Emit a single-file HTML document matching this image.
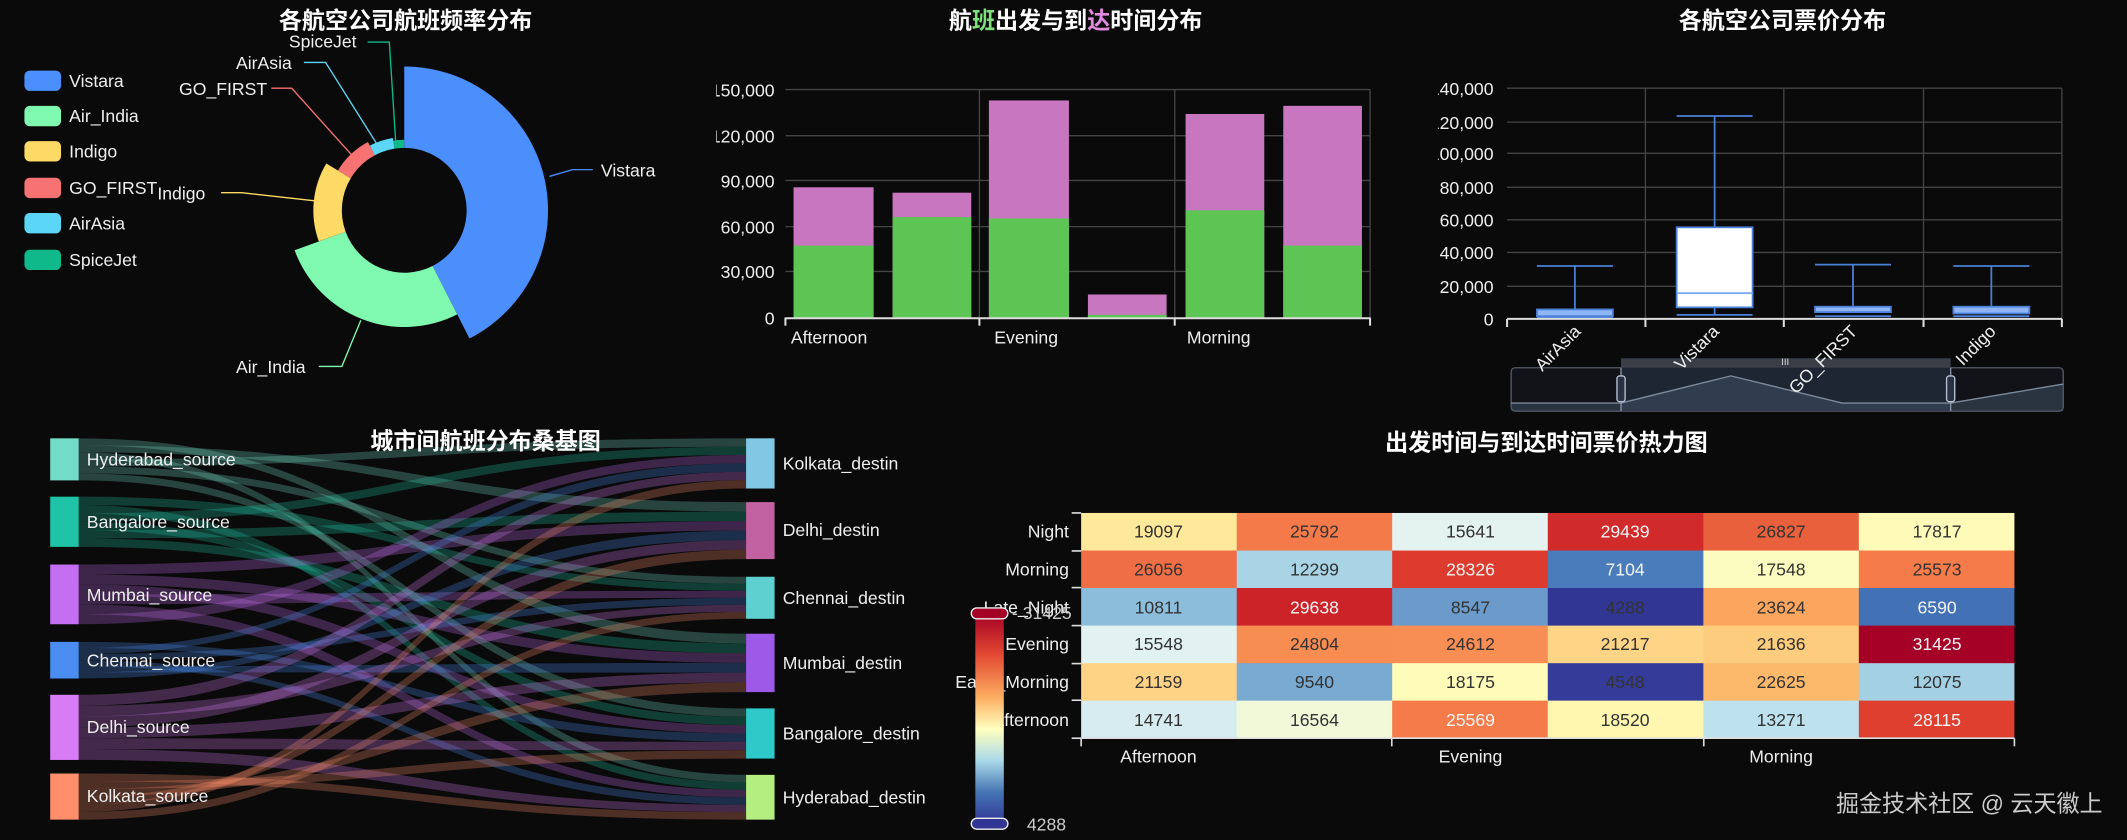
<!DOCTYPE html>
<html><head><meta charset="utf-8"><style>
html,body{margin:0;padding:0;background:#0a0a0a;width:2127px;height:840px;overflow:hidden}
svg{display:block}
text{font-family:"Liberation Sans","Noto Sans CJK SC",sans-serif}
.t{font-weight:bold;font-size:17px;fill:#fff;text-anchor:middle}
.l{font-size:13px;fill:#eee}
.h{font-size:13px;fill:#333;text-anchor:middle}
.w{fill:#f4f4f4}
</style></head><body>
<svg id="s" width="2127" height="840" viewBox="0 0 1568 619" preserveAspectRatio="none" xmlns="http://www.w3.org/2000/svg">
<rect width="1568" height="619" fill="#0a0a0a"/>
<!-- PIE -->
<text class="t" x="299" y="21">各航空公司航班频率分布</text>
<g id="pie"></g>
<g font-size="13">
<rect x="18" y="52" width="27" height="15" rx="4" fill="#4b8ffc"/><text class="l" x="51" y="64">Vistara</text>
<rect x="18" y="78" width="27" height="15" rx="4" fill="#80f9b0"/><text class="l" x="51" y="90">Air_India</text>
<rect x="18" y="104" width="27" height="15" rx="4" fill="#fdd966"/><text class="l" x="51" y="116">Indigo</text>
<rect x="18" y="131" width="27" height="15" rx="4" fill="#f77272"/><text class="l" x="51" y="143">GO_FIRST</text>
<rect x="18" y="157" width="27" height="15" rx="4" fill="#5bd6f7"/><text class="l" x="51" y="169">AirAsia</text>
<rect x="18" y="184" width="27" height="15" rx="4" fill="#10b98a"/><text class="l" x="51" y="196">SpiceJet</text>
</g>
<g fill="none" stroke-width="1">
<polyline points="405,130 422,125 437,125" stroke="#4b8ffc"/>
<polyline points="266,236 252,270 235,270" stroke="#80f9b0"/>
<polyline points="232,148 178,142 163,142" stroke="#fdd966"/>
<polyline points="260,115 215,65 200,65" stroke="#f77272"/>
<polyline points="279,108 240,46 224,46" stroke="#5bd6f7"/>
<polyline points="292,109 287,31 271,31" stroke="#10b98a"/>
</g>
<text class="l" x="443" y="130">Vistara</text>
<text class="l" x="174" y="275">Air_India</text>
<text class="l" x="116" y="147">Indigo</text>
<text class="l" x="132" y="70">GO_FIRST</text>
<text class="l" x="174" y="51">AirAsia</text>
<text class="l" x="213" y="35">SpiceJet</text>

<!-- BAR -->
<text class="t" x="793" y="21">航<tspan fill="#7ee07a">班</tspan>出发与到<tspan fill="#e08ae0">达</tspan>时间分布</text>
<g stroke="#444" stroke-width="1">
<line x1="579" y1="66" x2="1010" y2="66"/><line x1="579" y1="100" x2="1010" y2="100"/>
<line x1="579" y1="133" x2="1010" y2="133"/><line x1="579" y1="167" x2="1010" y2="167"/>
<line x1="579" y1="200" x2="1010" y2="200"/>
<line x1="722" y1="66" x2="722" y2="234"/><line x1="866" y1="66" x2="866" y2="234"/><line x1="1010" y1="66" x2="1010" y2="234"/>
</g>
<g fill="#c876c0">
<rect x="585" y="138" width="59" height="96"/><rect x="658" y="142" width="58" height="92"/>
<rect x="729" y="74" width="59" height="160"/><rect x="802" y="217" width="58" height="17"/>
<rect x="874" y="84" width="58" height="150"/><rect x="946" y="78" width="58" height="156"/>
</g>
<g fill="#5cc553">
<rect x="585" y="181" width="59" height="53"/><rect x="658" y="160" width="58" height="74"/>
<rect x="729" y="161" width="59" height="73"/><rect x="802" y="232" width="58" height="2"/>
<rect x="874" y="155" width="58" height="79"/><rect x="946" y="181" width="58" height="53"/>
</g>
<g stroke="#ddd" stroke-width="1.5"><line x1="579" y1="234.5" x2="1010" y2="234.5"/>
<line x1="579" y1="234" x2="579" y2="240"/><line x1="722" y1="234" x2="722" y2="240"/><line x1="866" y1="234" x2="866" y2="240"/><line x1="1010" y1="234" x2="1010" y2="240"/></g>
<clipPath id="cb"><rect x="528" y="50" width="60" height="200"/></clipPath>
<g clip-path="url(#cb)" font-size="13" fill="#eee" text-anchor="end">
<text x="571" y="71">150,000</text><text x="571" y="105">120,000</text><text x="571" y="138">90,000</text>
<text x="571" y="172">60,000</text><text x="571" y="205">30,000</text><text x="571" y="239">0</text>
</g>
<g font-size="13" fill="#eee"><text x="583" y="253">Afternoon</text><text x="733" y="253">Evening</text><text x="875" y="253">Morning</text></g>

<!-- BOX -->
<text class="t" x="1314" y="21">各航空公司票价分布</text>
<g stroke="#444" stroke-width="1">
<line x1="1111" y1="65" x2="1520" y2="65"/><line x1="1111" y1="90" x2="1520" y2="90"/><line x1="1111" y1="113" x2="1520" y2="113"/>
<line x1="1111" y1="138" x2="1520" y2="138"/><line x1="1111" y1="162" x2="1520" y2="162"/><line x1="1111" y1="186" x2="1520" y2="186"/>
<line x1="1111" y1="211" x2="1520" y2="211"/>
<line x1="1213" y1="65" x2="1213" y2="235"/><line x1="1315" y1="65" x2="1315" y2="235"/><line x1="1418" y1="65" x2="1418" y2="235"/><line x1="1520" y1="65" x2="1520" y2="235"/>
</g>
<clipPath id="cx"><rect x="1060" y="50" width="60" height="200"/></clipPath>
<g clip-path="url(#cx)" font-size="13" fill="#eee" text-anchor="end">
<text x="1101" y="70">140,000</text><text x="1101" y="95">120,000</text><text x="1101" y="118">100,000</text>
<text x="1101" y="143">80,000</text><text x="1101" y="167">60,000</text><text x="1101" y="191">40,000</text>
<text x="1101" y="216">20,000</text><text x="1101" y="240">0</text>
</g>
<g stroke="#4a80d8" stroke-width="1.3" fill="none">
<line x1="1161" y1="196" x2="1161" y2="228"/><line x1="1133" y1="196" x2="1189" y2="196"/>
<rect x="1133" y="228" width="56" height="5" fill="#8fb5f5"/><line x1="1133" y1="234" x2="1189" y2="234"/>
<line x1="1264" y1="85.5" x2="1264" y2="167.5"/><line x1="1236" y1="85.5" x2="1292" y2="85.5"/>
<rect x="1236" y="167.5" width="56" height="59" fill="#fff"/><line x1="1236" y1="216" x2="1292" y2="216" stroke="#7aa8f0"/>
<line x1="1264" y1="226.5" x2="1264" y2="232"/><line x1="1236" y1="232" x2="1292" y2="232"/>
<line x1="1366" y1="195" x2="1366" y2="226"/><line x1="1338" y1="195" x2="1394" y2="195"/>
<rect x="1338" y="226" width="56" height="4" fill="#8fb5f5"/><line x1="1338" y1="233" x2="1394" y2="233"/>
<line x1="1468" y1="196" x2="1468" y2="226"/><line x1="1440" y1="196" x2="1496" y2="196"/>
<rect x="1440" y="226" width="56" height="5" fill="#8fb5f5"/><line x1="1440" y1="233" x2="1496" y2="233"/>
</g>
<g stroke="#ddd" stroke-width="1.5"><line x1="1111" y1="235" x2="1520" y2="235"/>
<line x1="1111" y1="235" x2="1111" y2="241"/><line x1="1213" y1="235" x2="1213" y2="241"/><line x1="1315" y1="235" x2="1315" y2="241"/><line x1="1418" y1="235" x2="1418" y2="241"/><line x1="1520" y1="235" x2="1520" y2="241"/></g>
<!-- datazoom -->
<rect x="1114" y="271" width="407" height="32" rx="3" fill="#111318" stroke="#555a66"/>
<rect x="1195" y="264" width="243" height="8" fill="#3a3e47"/>
<rect x="1195" y="271" width="243" height="32" fill="#1e2633"/>
<polygon points="1114,303 1114,297 1195,297 1276,277 1358,297 1438,297 1521,283 1521,303" fill="#4a5a70" opacity="0.45"/>
<polyline points="1114,297 1195,297 1276,277 1358,297 1438,297 1521,283" fill="none" stroke="#7d8a9c"/>
<line x1="1195" y1="271" x2="1195" y2="303" stroke="#8a93a5"/><line x1="1438" y1="271" x2="1438" y2="303" stroke="#8a93a5"/>
<rect x="1192" y="277" width="6" height="19" rx="2" fill="#2a3140" stroke="#b8c0d8"/>
<rect x="1435" y="277" width="6" height="19" rx="2" fill="#2a3140" stroke="#b8c0d8"/>
<text x="1316" y="269" font-size="7" fill="#ddd" text-anchor="middle">III</text>
<g font-size="13" fill="#eee" text-anchor="end">
<text transform="translate(1166,245) rotate(-45)">AirAsia</text>
<text transform="translate(1268,245) rotate(-45)">Vistara</text>
<text transform="translate(1370,245) rotate(-45)">GO_FIRST</text>
<text transform="translate(1472,245) rotate(-45)">Indigo</text>
</g>

<!-- SANKEY -->
<g id="links"></g>
<g>
<rect x="37" y="323" width="21" height="31" fill="#72dcc6"/><rect x="37" y="366" width="21" height="37" fill="#1fc4a6"/>
<rect x="37" y="416" width="21" height="44" fill="#c46ef2"/><rect x="37" y="473" width="21" height="27" fill="#4a8cf0"/>
<rect x="37" y="512" width="21" height="48" fill="#d87cf6"/><rect x="37" y="570" width="21" height="34" fill="#fe8e6c"/>
<rect x="550" y="323" width="21" height="37" fill="#80c8e4"/><rect x="550" y="370" width="21" height="42" fill="#c262a2"/>
<rect x="550" y="425" width="21" height="31" fill="#5ed0d0"/><rect x="550" y="467" width="21" height="43" fill="#9d5ae8"/>
<rect x="550" y="522" width="21" height="37" fill="#2ec9c9"/><rect x="550" y="571" width="21" height="33" fill="#b5ee80"/>
</g>
<g font-size="13" fill="#eee">
<text x="64" y="343">Hyderabad_source</text><text x="64" y="389">Bangalore_source</text><text x="64" y="443">Mumbai_source</text>
<text x="64" y="491">Chennai_source</text><text x="64" y="540">Delhi_source</text><text x="64" y="591">Kolkata_source</text>
<text x="577" y="346">Kolkata_destin</text><text x="577" y="395">Delhi_destin</text><text x="577" y="445">Chennai_destin</text>
<text x="577" y="493">Mumbai_destin</text><text x="577" y="545">Bangalore_destin</text><text x="577" y="592">Hyderabad_destin</text>
</g>
<text class="t" x="358" y="331">城市间航班分布桑基图</text>

<!-- HEATMAP -->
<text class="t" x="1140" y="332">出发时间与到达时间票价热力图</text>
<g id="hm">
<rect x="797" y="378" width="115" height="28" fill="#fee99a"/><rect x="911.7" y="378" width="115" height="28" fill="#f57a4a"/><rect x="1026.3" y="378" width="115" height="28" fill="#e4f2f0"/><rect x="1141" y="378" width="115" height="28" fill="#d02a2a"/><rect x="1255.7" y="378" width="115" height="28" fill="#e8603c"/><rect x="1370.3" y="378" width="114.7" height="28" fill="#fefab8"/>
<rect x="797" y="405.7" width="115" height="28" fill="#f06e45"/><rect x="911.7" y="405.7" width="115" height="28" fill="#a9d4e6"/><rect x="1026.3" y="405.7" width="115" height="28" fill="#dc3b2d"/><rect x="1141" y="405.7" width="115" height="28" fill="#4a7cbc"/><rect x="1255.7" y="405.7" width="115" height="28" fill="#fdfcc0"/><rect x="1370.3" y="405.7" width="114.7" height="28" fill="#f57b4a"/>
<rect x="797" y="433.3" width="115" height="28" fill="#8cbedc"/><rect x="911.7" y="433.3" width="115" height="28" fill="#cc2329"/><rect x="1026.3" y="433.3" width="115" height="28" fill="#6a9bcb"/><rect x="1141" y="433.3" width="115" height="28" fill="#313695"/><rect x="1255.7" y="433.3" width="115" height="28" fill="#fba55e"/><rect x="1370.3" y="433.3" width="114.7" height="28" fill="#4272b5"/>
<rect x="797" y="461" width="115" height="28" fill="#e2f2f1"/><rect x="911.7" y="461" width="115" height="28" fill="#f88d52"/><rect x="1026.3" y="461" width="115" height="28" fill="#f88e53"/><rect x="1141" y="461" width="115" height="28" fill="#fed487"/><rect x="1255.7" y="461" width="115" height="28" fill="#fdcc7c"/><rect x="1370.3" y="461" width="114.7" height="28" fill="#a50026"/>
<rect x="797" y="488.7" width="115" height="28" fill="#fed385"/><rect x="911.7" y="488.7" width="115" height="28" fill="#78aad2"/><rect x="1026.3" y="488.7" width="115" height="28" fill="#fffbb9"/><rect x="1141" y="488.7" width="115" height="28" fill="#343b98"/><rect x="1255.7" y="488.7" width="115" height="28" fill="#fcb96b"/><rect x="1370.3" y="488.7" width="114.7" height="28" fill="#a4d0e4"/>
<rect x="797" y="516.3" width="115" height="27.7" fill="#d6ecf1"/><rect x="911.7" y="516.3" width="115" height="27.7" fill="#f1f9d8"/><rect x="1026.3" y="516.3" width="115" height="27.7" fill="#f57b4a"/><rect x="1141" y="516.3" width="115" height="27.7" fill="#fff6b0"/><rect x="1255.7" y="516.3" width="115" height="27.7" fill="#bde2ee"/><rect x="1370.3" y="516.3" width="114.7" height="27.7" fill="#de3f2e"/>
</g>
<g>
<text class="h" x="854" y="396">19097</text><text class="h" x="969" y="396">25792</text><text class="h" x="1084" y="396">15641</text><text class="h w" x="1198" y="396">29439</text><text class="h" x="1313" y="396">26827</text><text class="h" x="1428" y="396">17817</text>
<text class="h" x="854" y="424">26056</text><text class="h" x="969" y="424">12299</text><text class="h w" x="1084" y="424">28326</text><text class="h w" x="1198" y="424">7104</text><text class="h" x="1313" y="424">17548</text><text class="h" x="1428" y="424">25573</text>
<text class="h" x="854" y="452">10811</text><text class="h w" x="969" y="452">29638</text><text class="h" x="1084" y="452">8547</text><text class="h" x="1198" y="452" fill="#ccc">4288</text><text class="h" x="1313" y="452">23624</text><text class="h w" x="1428" y="452">6590</text>
<text class="h" x="854" y="479">15548</text><text class="h" x="969" y="479">24804</text><text class="h" x="1084" y="479">24612</text><text class="h" x="1198" y="479">21217</text><text class="h" x="1313" y="479">21636</text><text class="h w" x="1428" y="479">31425</text>
<text class="h" x="854" y="507">21159</text><text class="h" x="969" y="507">9540</text><text class="h" x="1084" y="507">18175</text><text class="h" x="1198" y="507" fill="#ccc">4548</text><text class="h" x="1313" y="507">22625</text><text class="h" x="1428" y="507">12075</text>
<text class="h" x="854" y="535">14741</text><text class="h" x="969" y="535">16564</text><text class="h w" x="1084" y="535">25569</text><text class="h" x="1198" y="535">18520</text><text class="h" x="1313" y="535">13271</text><text class="h w" x="1428" y="535">28115</text>
</g>
<g stroke="#ddd" stroke-width="1.2">
<line x1="797" y1="544" x2="1485" y2="544"/>
<line x1="797" y1="544" x2="797" y2="550"/><line x1="1026" y1="544" x2="1026" y2="550"/><line x1="1256" y1="544" x2="1256" y2="550"/><line x1="1485" y1="544" x2="1485" y2="550"/>
<line x1="790" y1="378" x2="797" y2="378"/><line x1="790" y1="406" x2="797" y2="406"/><line x1="790" y1="433" x2="797" y2="433"/><line x1="790" y1="461" x2="797" y2="461"/><line x1="790" y1="489" x2="797" y2="489"/><line x1="790" y1="516" x2="797" y2="516"/><line x1="790" y1="544" x2="797" y2="544"/>
</g>
<g font-size="13" fill="#eee" text-anchor="end">
<text x="788" y="396">Night</text><text x="788" y="424">Morning</text><text x="788" y="452">Late_Night</text>
<text x="788" y="479">Evening</text><text x="788" y="507">Early_Morning</text><text x="788" y="535">Afternoon</text>
</g>
<g font-size="13" fill="#eee" text-anchor="middle"><text x="854" y="562">Afternoon</text><text x="1084" y="562">Evening</text><text x="1313" y="562">Morning</text></g>
<defs><linearGradient id="vm" x1="0" y1="0" x2="0" y2="1">
<stop offset="0" stop-color="#a50026"/><stop offset="0.2" stop-color="#e34a33"/><stop offset="0.4" stop-color="#fdae61"/>
<stop offset="0.55" stop-color="#ffffbf"/><stop offset="0.7" stop-color="#abd9e9"/><stop offset="0.85" stop-color="#4575b4"/><stop offset="1" stop-color="#313695"/>
</linearGradient></defs>
<rect x="719" y="452" width="21" height="155" fill="url(#vm)"/>
<rect x="716" y="448" width="27" height="8" rx="4" fill="#a50026" stroke="#eee"/>
<rect x="716" y="603" width="27" height="8" rx="4" fill="#313695" stroke="#eee"/>
<g font-size="13" fill="#ccc"><text x="746" y="456">- 31425</text><text x="757" y="612">4288</text></g>
<text x="1550" y="598" font-size="17" fill="#ccc" text-anchor="end">掘金技术社区 @ 云天徽上</text>
</svg>
<script>
var NS="http://www.w3.org/2000/svg";
function P(a,r){a=a*Math.PI/180;return[298+r*Math.sin(a),155-r*Math.cos(a)];}
var sl=[[0,153,106,'#4b8ffc'],[153,250,86,'#80f9b0'],[250,301,67,'#fdd966'],[301,332,57,'#f77272'],[332,351,54,'#5bd6f7'],[351,360,52,'#10b98a']];
var g=document.getElementById('pie'),ri=46;
sl.forEach(function(s){var a=P(s[0],s[2]),b=P(s[1],s[2]),c=P(s[1],ri),d=P(s[0],ri),lg=(s[1]-s[0])>180?1:0;
var p=document.createElementNS(NS,'path');
p.setAttribute('d','M'+a+' A'+s[2]+','+s[2]+' 0 '+lg+' 1 '+b+' L'+c+' A'+ri+','+ri+' 0 '+lg+' 0 '+d+'Z');
p.setAttribute('fill',s[3]);g.appendChild(p);});
var L=[[323,354,'#72dcc6'],[366,403,'#1fc4a6'],[416,460,'#c46ef2'],[473,500,'#4a8cf0'],[512,560,'#d87cf6'],[570,604,'#fe8e6c']];
var R=[[323,360],[370,412],[425,456],[467,510],[522,559],[571,604]];
var lk=document.getElementById('links');
var ord=[[3,1,5,0,2,4],[2,5,0,4,1,3],[1,3,4,2,5,0],[4,0,2,5,3,1],[0,2,1,3,4,5],[5,4,3,1,0,2]];
for(var i=0;i<6;i++)for(var k=0;k<6;k++){var j=ord[i][k];
var lh=(L[i][1]-L[i][0])/6,rh=(R[j][1]-R[j][0])/6;
var y0=L[i][0]+k*lh,y1=y0+lh,t0=R[j][0]+i*rh,t1=t0+rh,x0=58,x1=550,xm=304;
var p=document.createElementNS(NS,'path');
p.setAttribute('d','M'+x0+','+y0+' C'+xm+','+y0+' '+xm+','+t0+' '+x1+','+t0+' L'+x1+','+t1+' C'+xm+','+t1+' '+xm+','+y1+' '+x0+','+y1+'Z');
p.setAttribute('fill',L[i][2]);p.setAttribute('fill-opacity','0.28');lk.appendChild(p);}
</script>
</body></html>
